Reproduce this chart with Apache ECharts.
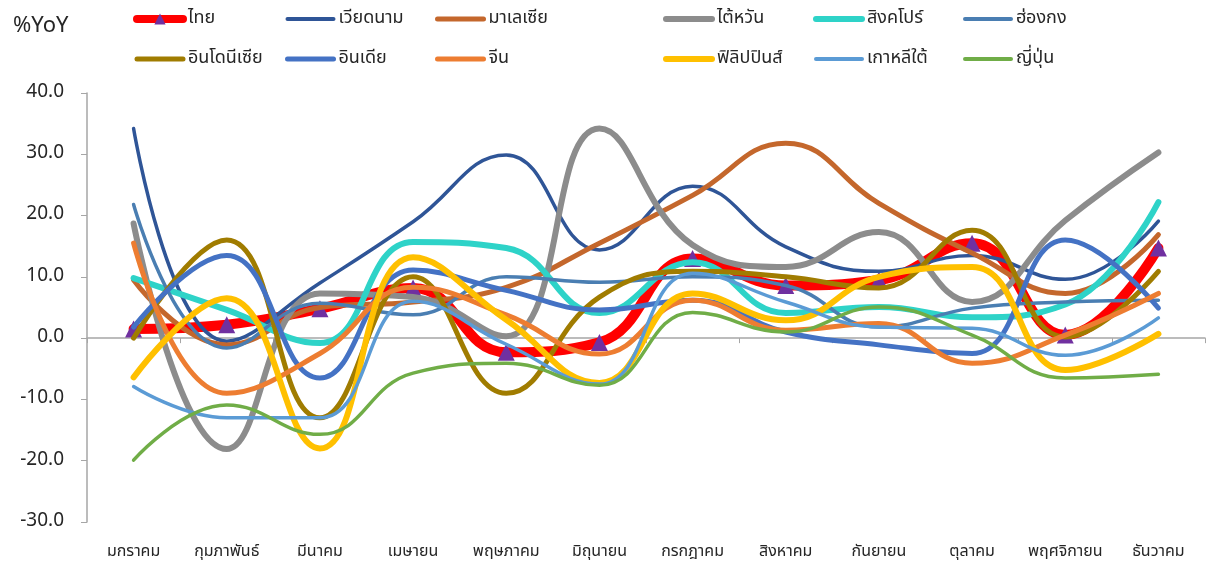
<!DOCTYPE html>
<html>
<head>
<meta charset="utf-8">
<script src="https://cdn.jsdelivr.net/npm/echarts@6/dist/echarts.min.js"></script>
<style>
    html, body { margin: 0; padding: 0; background: #fff; }
    #chart { width: 1207px; height: 567px; }
</style>
</head>
<body>
<div id="chart"></div>
<script>
    // เดือน
    const months = ['มกราคม','กุมภาพันธ์','มีนาคม','เมษายน','พฤษภาคม','มิถุนายน','กรกฎาคม','สิงหาคม','กันยายน','ตุลาคม','พฤศจิกายน','ธันวาคม'];

    // %YoY ของแต่ละประเทศ
    const thai        = [1.5, 2.2, 4.8, 8.2, -2.3, -0.7, 13.0, 8.6, 9.5, 15.5, 0.5, 14.7];
    const vietnam     = [34.2, -0.5, 9.0, 19.0, 29.9, 14.4, 24.8, 14.9, 10.9, 13.5, 9.6, 19.1];
    const malaysia    = [9.5, -1.1, 5.0, 5.9, 8.3, 15.5, 23.3, 31.8, 22.0, 13.9, 7.3, 16.9];
    const taiwan      = [18.7, -18.1, 7.3, 6.7, 0.3, 34.2, 15.2, 11.6, 17.3, 5.9, 19.2, 30.3];
    const singapore   = [9.8, 4.6, -0.8, 15.7, 14.7, 4.1, 12.4, 4.1, 5.1, 3.4, 5.5, 22.2];
    const hongkong    = [21.8, -1.6, 5.7, 3.8, 10.0, 9.1, 10.0, 8.6, 1.8, 4.9, 5.9, 6.2];
    const indonesia   = [0.0, 16.0, -13.0, 10.0, -9.0, 6.7, 10.9, 10.0, 8.2, 17.6, 0.2, 10.9];
    const india       = [1.8, 13.5, -6.5, 11.1, 7.8, 4.6, 6.2, 1.0, -1.1, -2.5, 16.0, 4.9];
    const china       = [15.5, -9.0, -2.5, 8.3, 3.8, -2.6, 6.2, 1.3, 2.4, -4.1, 0.5, 7.3];
    const philippines = [-6.4, 6.5, -18.0, 13.2, 3.0, -7.3, 7.3, 2.9, 10.0, 11.6, -5.2, 0.7];
    const korea       = [-7.9, -13.0, -13.0, 6.0, -1.0, -7.5, 10.6, 5.9, 1.8, 1.6, -2.8, 3.3];
    const japan       = [-19.9, -10.9, -15.7, -5.7, -4.1, -7.7, 4.2, 1.0, 5.1, 0.5, -6.5, -5.9];

    const yTicks = [-30, 40, 10];

    const font = '"Noto Sans Thai", "Noto Sans", sans-serif';

    let seriesList = [
        {name:'ไทย', data:thai, color:'#FF0000', width:10},
        {name:'เวียดนาม', data:vietnam, color:'#2F5597', width:3.5},
        {name:'มาเลเซีย', data:malaysia, color:'#C4672C', width:5},
        {name:'ไต้หวัน', data:taiwan, color:'#8C8C8C', width:6},
        {name:'สิงคโปร์', data:singapore, color:'#2ED3C8', width:6},
        {name:'ฮ่องกง', data:hongkong, color:'#4A7EB2', width:3.5},
        {name:'อินโดนีเซีย', data:indonesia, color:'#A07C00', width:5},
        {name:'อินเดีย', data:india, color:'#4472C4', width:5},
        {name:'จีน', data:china, color:'#ED7D31', width:5},
        {name:'ฟิลิปปินส์', data:philippines, color:'#FFC000', width:6},
        {name:'เกาหลีใต้', data:korea, color:'#5B9BD5', width:3.5},
        {name:'ญี่ปุ่น', data:japan, color:'#70AD47', width:3.5}
    ];

    function legendItem(s, i) {
        let item = { name: s.name, lineStyle: { width: Math.max(Math.min(s.width, 8), 4), cap: 'round' } };
        if (i !== 0) {
            item.itemStyle = { opacity: 0 };
        }
        return item;
    }

    // legend 6 คอลัมน์ 2 แถว
    const legendLeft = [133, 285, 435, 663, 813, 963];
    let legends = legendLeft.map(function (x, i) {
        return {
            left: x,
            top: 10,
            padding: 0,
            orient: 'vertical',
            itemWidth: 46,
            itemHeight: 14,
            itemGap: 22,
            textStyle: { color: '#262626', fontSize: 18, fontFamily: font },
            data: [legendItem(seriesList[i], i), legendItem(seriesList[i + 6], i + 6)]
        };
    });

    let option = {
        animation: false,
        title: {
            text: '%YoY',
            left: 8,
            top: 12,
            textStyle: { fontSize: 22, fontWeight: 'normal', color: '#262626', fontFamily: font }
        },
        legend: legends,
        grid: { left: 87, right: 2, top: 93, bottom: 45, outerBoundsMode: 'none', containLabel: false },
        xAxis: {
            type: 'category',
            data: months,
            boundaryGap: true,
            axisLine: { onZero: true, lineStyle: { color: '#A6A6A6', width: 1.5 } },
            axisTick: { show: true, length: 5, lineStyle: { color: '#A6A6A6' } },
            axisLabel: { margin: 23, interval: 0, color: '#262626', fontSize: 16, fontFamily: font },
            splitLine: { show: false }
        },
        yAxis: {
            type: 'value',
            min: yTicks[0],
            max: yTicks[1],
            interval: yTicks[2],
            axisLine: { show: true, lineStyle: { color: '#A6A6A6', width: 1.5 } },
            axisTick: { show: true, length: 6, lineStyle: { color: '#A6A6A6' } },
            axisLabel: {
                margin: 23,
                color: '#262626',
                fontSize: 19,
                fontFamily: font,
                formatter: function (v) { return v.toFixed(1); }
            },
            splitLine: { show: false }
        },
        series: seriesList.map(function (s, i) {
            return {
                name: s.name,
                type: 'line',
                data: s.data,
                smooth: 0.45,
                z: 2 + i,
                symbol: i === 0 ? 'triangle' : 'none',
                symbolSize: 17,
                showSymbol: i === 0,
                itemStyle: { color: i === 0 ? '#7030A0' : s.color },
                lineStyle: { color: s.color, width: s.width, cap: 'round' },
                emphasis: { disabled: true }
            };
        })
    };

    let myChart = echarts.init(document.getElementById('chart'));
    myChart.setOption(option);
</script>
</body>
</html>
